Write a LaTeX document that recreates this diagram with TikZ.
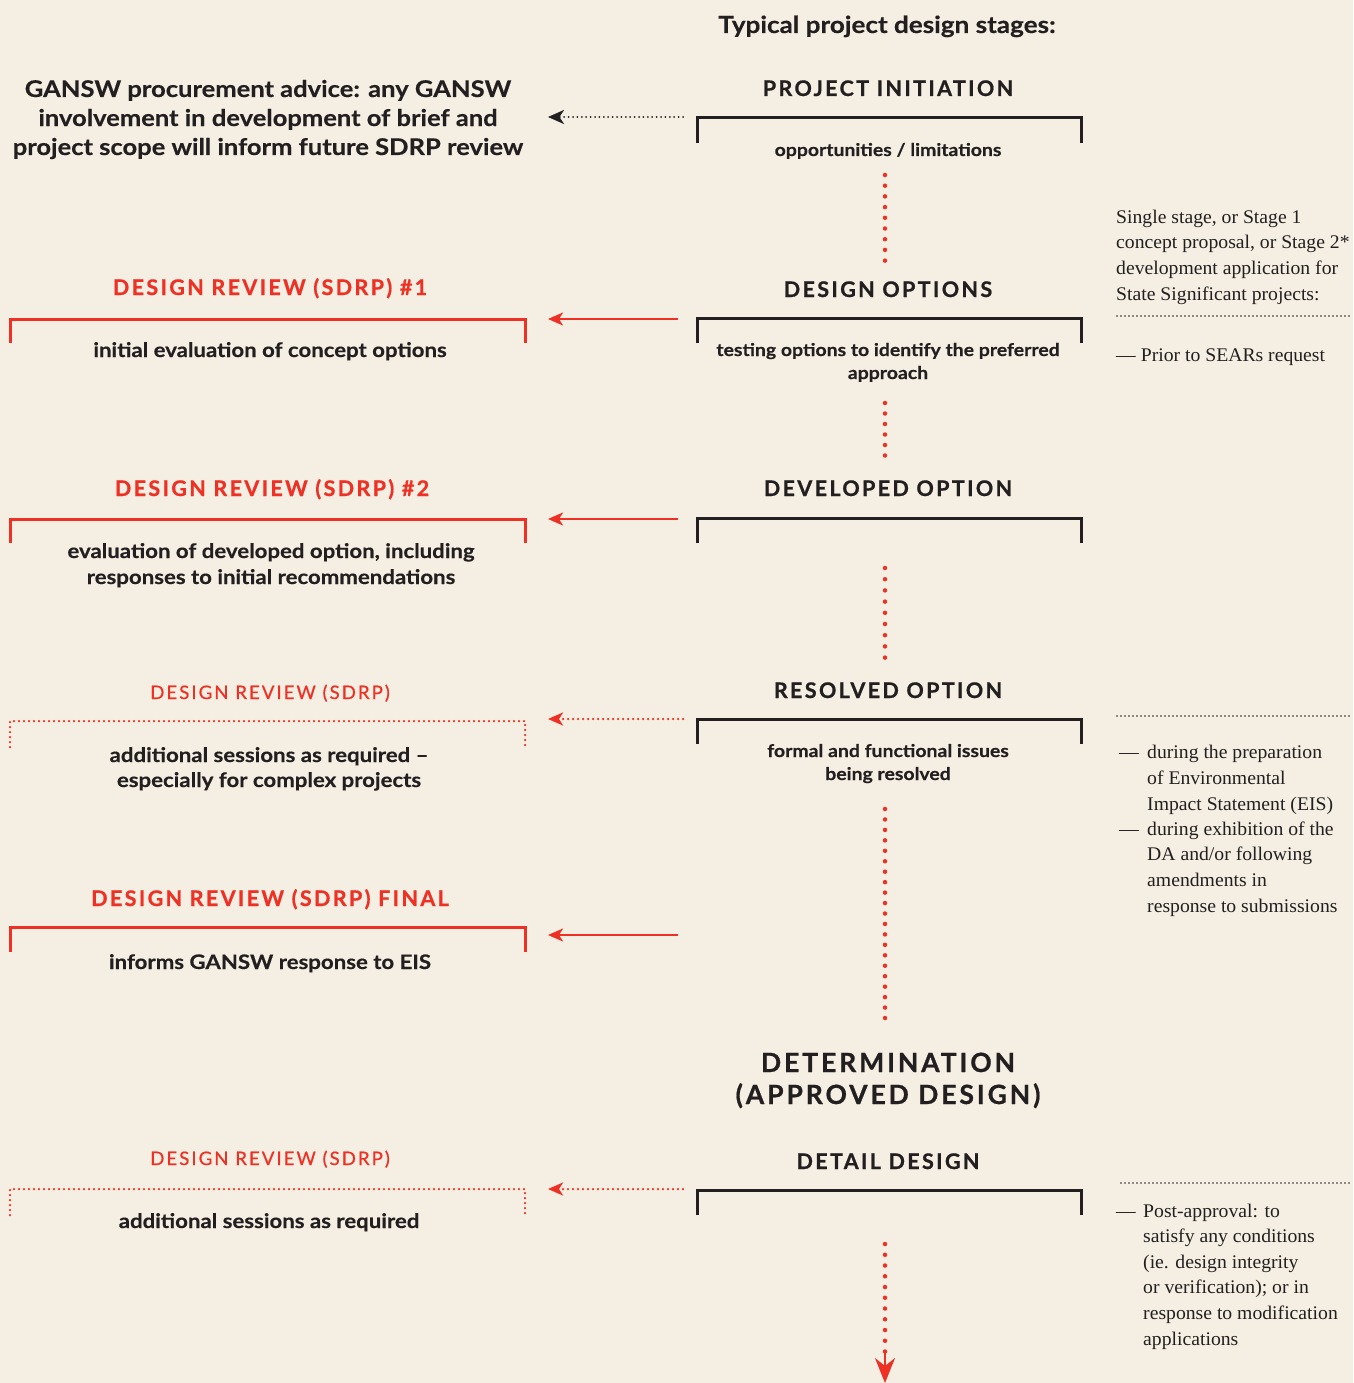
\documentclass[tikz,border=0pt]{standalone}
\usepackage{fontspec}
\setmainfont{Lato}
\newfontfamily\serifcol[FakeStretch=1.02]{Liberation Serif}
\newfontfamily\bodyfont[FakeStretch=1.11, BoldFeatures={FakeBold=0.4}]{Lato}
\newfontfamily\spaced[LetterSpace=11, BoldFeatures={FakeBold=0.8}]{Lato}
\newfontfamily\spacedmed[LetterSpace=11, FakeBold=0.7]{Lato}
\usetikzlibrary{arrows.meta}
\definecolor{bg}{HTML}{F4EFE2}
\definecolor{rd}{HTML}{EE3124}
\definecolor{ink}{HTML}{231F20}
\tikzset{
  stage/.style={font=\spaced\bfseries\fontsize{21.5}{25}\selectfont, text=ink, inner sep=0pt, anchor=base},
  bigstage/.style={font=\spaced\bfseries\fontsize{26.5}{32}\selectfont, text=ink, inner sep=0pt, anchor=base, align=center},
  rev/.style={font=\spaced\bfseries\fontsize{21.5}{25}\selectfont, text=rd, inner sep=0pt, anchor=base},
  revlight/.style={font=\spacedmed\fontsize{18.6}{23}\selectfont, text=rd, inner sep=0pt, anchor=base},
  body/.style={font=\bodyfont\bfseries\fontsize{17.5}{23}\selectfont, text=ink, inner sep=0pt, anchor=base, align=center},
  lbody/.style={font=\bodyfont\bfseries\fontsize{20}{26}\selectfont, text=ink, inner sep=0pt, anchor=base, align=center},
  side/.style={font=\serifcol\fontsize{19.3}{25.6}\selectfont, text=ink, inner sep=0pt, anchor=base west, align=left},
  bbracket/.style={draw=ink, line width=3pt},
  rbracket/.style={draw=rd, line width=3pt},
  rdbracket/.style={draw=rd, line width=2.5pt, line cap=round, dash pattern=on 0pt off 5pt},
  flow/.style={draw=rd, line width=4.5pt, line cap=round, dash pattern=on 0pt off #1},
  flow/.default=10.7pt,
  rarrow/.style={draw=rd, line width=2pt, -{Stealth[length=15pt,width=13pt,inset=4pt]}},
  rdarrow/.style={draw=rd, line width=2.5pt, line cap=round, dash pattern=on 0pt off 5pt, -{Stealth[length=15pt,width=13pt,inset=4pt]}},
  karrow/.style={draw=ink, line width=2pt, line cap=round, dash pattern=on 0pt off 4.4pt, -{Stealth[length=16pt,width=14pt,inset=4.5pt]}},
  sepline/.style={draw=ink, line width=1.8pt, line cap=round, dash pattern=on 0pt off 4pt},
}
\begin{document}
\begin{tikzpicture}[x=1pt,y=-1pt]
\fill[bg] (0,0) rectangle (1353,1383);
\useasboundingbox (0,0) rectangle (1353,1383);

% title
\node[font=\bodyfont\bfseries\fontsize{23.5}{26}\selectfont, text=ink, inner sep=0pt, anchor=base] (title) at (887,33) {Typical project design stages:};

% left GANSW text (anchored at baseline of last line)
\node[lbody, font=\bodyfont\bfseries\fontsize{23}{29}\selectfont] (gansw) at (268,155) {GANSW procurement advice: any GANSW\\involvement in development of brief and\\project scope will inform future SDRP review};

% ---- centre column stages
\node[stage] (s1) at (888,96) {PROJECT INITIATION};
\draw[bbracket] (697,143) |- (1081,118) -- (1081,143);
\node[body] (s1t) at (888,156) {opportunities / limitations};

\node[stage] (s2) at (888,297) {DESIGN OPTIONS};
\draw[bbracket] (697,343) |- (1081,318) -- (1081,343);
\node[body] (s2t) at (888,379) {testing options to identify the preferred\\approach};

\node[stage] (s3) at (888,496) {DEVELOPED OPTION};
\draw[bbracket] (697,543) |- (1081,518) -- (1081,543);

\node[stage] (s4) at (888,698) {RESOLVED OPTION};
\draw[bbracket] (697,744) |- (1081,719) -- (1081,744);
\node[body] (s4t) at (888,780) {formal and functional issues\\being resolved};

\node[bigstage] (s5) at (888,1104) {DETERMINATION\\(APPROVED DESIGN)};

\node[stage] (s6) at (888,1169) {DETAIL DESIGN};
\draw[bbracket] (697,1215) |- (1081,1190) -- (1081,1215);

% flow connectors
\coordinate (f1a) at (885,175); \coordinate (f1b) at (885,261);
\coordinate (f2a) at (885,403); \coordinate (f2b) at (885,456);
\coordinate (f3a) at (885,568); \coordinate (f3b) at (885,658);
\coordinate (f4a) at (885,809); \coordinate (f4b) at (885,1019);
\coordinate (f5a) at (885,1244); \coordinate (f5b) at (885,1352);
\coordinate (f5c) at (885,1383);
\draw[flow] (f1a) -- (f1b);
\draw[flow=10.5pt] (f2a) -- (f2b);
\draw[flow=11.2pt] (f3a) -- (f3b);
\draw[flow=10.45pt] (f4a) -- (f4b);
\draw[flow=10.75pt] (f5a) -- (f5b);
\draw[draw=rd, line width=2pt, -{Stealth[length=25pt,width=20pt,inset=8pt]}] (f5b) -- (f5c);

% ---- left column reviews
\node[rev] (r1) at (270,295) {DESIGN REVIEW (SDRP) \#1};
\draw[rbracket] (10,343) |- (525,319) -- (525,343);
\node[lbody] (r1t) at (270,357) {initial evaluation of concept options};

\node[rev] (r2) at (272,496) {DESIGN REVIEW (SDRP) \#2};
\draw[rbracket] (10,543) |- (525,519) -- (525,543);
\node[lbody] (r2t) at (271,584) {evaluation of developed option, including\\responses to initial recommendations};

\node[revlight] (r3) at (270,699) {DESIGN REVIEW (SDRP)};
\draw[rdbracket] (10,747) |- (525,721) -- (525,747);
\node[lbody, font=\bodyfont\bfseries\fontsize{20}{25}\selectfont] (r3t) at (269,787) {additional sessions as required –\\especially for complex projects};

\node[rev] (r4) at (270,906) {DESIGN REVIEW (SDRP) FINAL};
\draw[rbracket] (10,952) |- (525,927) -- (525,952);
\node[lbody] (r4t) at (270,969) {informs GANSW response to EIS};

\node[revlight] (r5) at (270,1165) {DESIGN REVIEW (SDRP)};
\draw[rdbracket] (10,1215) |- (525,1189) -- (525,1215);
\node[lbody] (r5t) at (269,1228) {additional sessions as required};

% arrows centre -> left
\coordinate (a0s) at (683,117); \coordinate (a0e) at (548,117);
\coordinate (a1s) at (678,319); \coordinate (a1e) at (548,319);
\coordinate (a2s) at (678,519); \coordinate (a2e) at (548,519);
\coordinate (a3s) at (683,719); \coordinate (a3e) at (548,719);
\coordinate (a4s) at (678,935); \coordinate (a4e) at (548,935);
\coordinate (a5s) at (683,1189); \coordinate (a5e) at (548,1189);
\draw[karrow] (a0s) -- (a0e);
\draw[rarrow] (a1s) -- (a1e);
\draw[rarrow] (a2s) -- (a2e);
\draw[rdarrow] (a3s) -- (a3e);
\draw[rarrow] (a4s) -- (a4e);
\draw[rdarrow] (a5s) -- (a5e);

% ---- right column notes (anchored at baseline of last line)
\node[side] (n1) at (1116,300) {Single stage, or Stage 1\\concept proposal, or Stage 2*\\development application for\\State Significant projects:};
\draw[sepline] (1117,316) -- (1352,316);
\node[side] (n2) at (1116,361) {— Prior to SEARs request};

\draw[sepline] (1117,716) -- (1350,716);
\node[side] (n3d) at (1119,758) {—};
\node[side] (n3) at (1147,810) {during the preparation\\of Environmental\\Impact Statement (EIS)};
\node[side] (n4d) at (1119,835) {—};
\node[side] (n4) at (1147,912) {during exhibition of the\\DA and/or following\\amendments in\\response to submissions};

\draw[sepline] (1121,1183) -- (1352,1183);
\node[side] (n5d) at (1116,1217) {—};
\node[side] (n5) at (1143,1345) {Post-approval: to\\satisfy any conditions\\(ie. design integrity\\or verification); or in\\response to modification\\applications};
\end{tikzpicture}
\end{document}
